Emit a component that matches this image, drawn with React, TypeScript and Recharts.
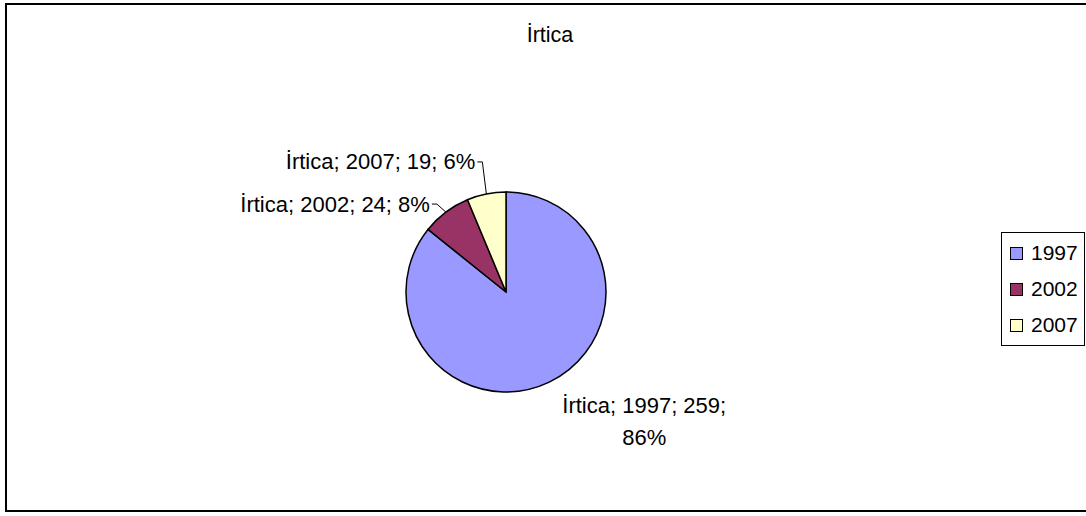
import React from 'react';
import { PieChart, Pie, Cell, Legend } from 'recharts';

const seriesName = 'İrtica';
const years = ['1997', '2002', '2007'];
const counts = [259, 24, 19];
const colors = ['#9999FF', '#993366', '#FFFFCC'];

const data = years.map((y, i) => ({ name: y, value: counts[i] }));
const total = counts.reduce((a, b) => a + b, 0);

const FONT = '"Liberation Sans", Arial, sans-serif';
const RADIAN = Math.PI / 180;

// label placement relative to the slice's edge point (layout only)
const labelLayout = [
    { dx: 95, dy: 23, lines: 2 },
    { dx: -16, dy: -8, lines: 1 },
    { dx: -11, dy: -32, lines: 1 },
];

const renderLabel = (props: any) => {
    const { cx, cy, midAngle, outerRadius, index, value, name } = props;
    const ex = cx + outerRadius * Math.cos(-midAngle * RADIAN);
    const ey = cy + outerRadius * Math.sin(-midAngle * RADIAN);
    const lay = labelLayout[index];
    const pct = Math.round((value / total) * 100);
    const tx = ex + lay.dx;
    const ty = ey + lay.dy;
    const common = { fill: '#000', fontSize: 22, fontFamily: FONT, dominantBaseline: 'central' as const };

    if (lay.lines === 2) {
        return (
            <g>
                <text x={tx} y={ty} textAnchor="middle" {...common}>{`${seriesName}; ${name}; ${value};`}</text>
                <text x={tx} y={ty + 32} textAnchor="middle" {...common}>{`${pct}%`}</text>
            </g>
        );
    }
    return (
        <g>
            <polyline
                points={`${tx + 2},${ty} ${tx + 7},${ty} ${ex},${ey}`}
                fill="none"
                stroke="#000"
                strokeWidth={1}
            />
            <text x={tx} y={ty} textAnchor="end" {...common}>{`${seriesName}; ${name}; ${value}; ${pct}%`}</text>
        </g>
    );
};

const LegendBox = () => (
    <div
        style={{
            border: '1.5px solid #000',
            background: '#fff',
            width: 84,
            padding: '2px 0',
            fontFamily: FONT,
            fontSize: 21,
            boxSizing: 'border-box',
        }}
    >
        {years.map((y, i) => (
            <div key={y} style={{ display: 'flex', alignItems: 'center', height: 36, paddingLeft: 8 }}>
                <span
                    style={{
                        display: 'inline-block',
                        width: 11,
                        height: 11,
                        background: colors[i],
                        border: '1.5px solid #000',
                        marginRight: 8,
                    }}
                />
                <span>{y}</span>
            </div>
        ))}
    </div>
);

export default function App() {
    return (
        <div style={{ position: 'absolute', left: 0, top: 0, width: 1086, height: 516, overflow: 'hidden', background: '#fff' }}>
            <div
                style={{
                    position: 'absolute',
                    left: 5,
                    top: 3,
                    width: 1100,
                    height: 509,
                    border: '2px solid #000',
                    boxSizing: 'border-box',
                }}
            />
            <div
                style={{
                    position: 'absolute',
                    left: 0,
                    top: 23,
                    width: 1100,
                    textAlign: 'center',
                    fontFamily: FONT,
                    fontSize: 21.5,
                    lineHeight: '24px',
                }}
            >
                {seriesName}
            </div>
            <div style={{ position: 'absolute', left: 0, top: 0, width: 1086, height: 516 }}>
                <PieChart width={1086} height={516}>
                    <Pie
                        data={data}
                        dataKey="value"
                        nameKey="name"
                        cx={501}
                        cy={287}
                        outerRadius={100}
                        startAngle={90}
                        endAngle={-270}
                        stroke="#000"
                        strokeWidth={1.5}
                        label={renderLabel}
                        labelLine={false}
                        isAnimationActive={false}
                    >
                        {data.map((d, i) => (
                            <Cell key={d.name} fill={colors[i]} />
                        ))}
                    </Pie>
                    <Legend
                        content={<LegendBox />}
                        layout="vertical"
                        wrapperStyle={{ position: 'absolute', left: 1001, top: 232, width: 'auto' }}
                    />
                </PieChart>
            </div>
        </div>
    );
}
